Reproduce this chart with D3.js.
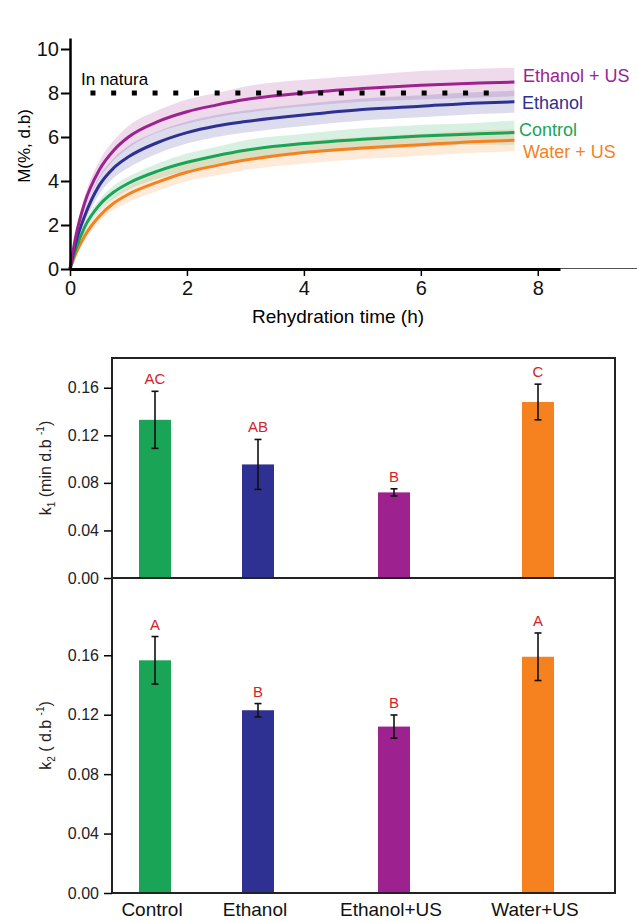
<!DOCTYPE html>
<html>
<head>
<meta charset="utf-8">
<style>
  body { margin: 0; background: #fff; }
  svg text { font-family: "Liberation Sans", Arial, sans-serif; }
</style>
</head>
<body>
<div id="chart"></div>
<script src="https://d3js.org/d3.v7.min.js"></script>
<script>

// ---- data: rehydration curves ----
var hours = [0, 0.1, 0.25, 0.5, 0.75, 1, 1.5, 2, 2.5, 3, 4, 5, 6, 7, 7.6];
var ethanolUS = [0, 1.5, 3.0, 4.5, 5.4, 6.0, 6.7, 7.15, 7.45, 7.7, 8.0, 8.2, 8.35, 8.45, 8.5];
var ethanol   = [0, 1.2, 2.4, 3.8, 4.6, 5.1, 5.75, 6.2, 6.5, 6.7, 7.0, 7.25, 7.4, 7.55, 7.6];
var control   = [0, 0.9, 1.9, 2.9, 3.5, 3.9, 4.45, 4.85, 5.15, 5.4, 5.7, 5.9, 6.05, 6.15, 6.2];
var waterUS   = [0, 0.7, 1.5, 2.4, 3.0, 3.4, 3.95, 4.4, 4.7, 4.95, 5.3, 5.5, 5.65, 5.8, 5.85];
// half width of the shaded bands
var ethanolUSErr = [0, 0.15, 0.3, 0.4, 0.45, 0.5, 0.5, 0.55, 0.55, 0.6, 0.6, 0.6, 0.65, 0.65, 0.65];
var ethanolErr   = [0, 0.15, 0.3, 0.4, 0.45, 0.5, 0.5, 0.5, 0.5, 0.5, 0.5, 0.5, 0.5, 0.5, 0.5];
var controlErr   = [0, 0.1, 0.2, 0.25, 0.3, 0.3, 0.35, 0.4, 0.4, 0.45, 0.45, 0.5, 0.5, 0.5, 0.55];
var waterUSErr   = [0, 0.1, 0.2, 0.25, 0.3, 0.35, 0.4, 0.4, 0.45, 0.45, 0.5, 0.5, 0.5, 0.5, 0.5];
var inNatura = 8;
var inNaturaSpan = [0.35, 7.35];
var curveTicksX = [0, 2, 4, 6, 8];
var curveTicksY = [0, 2, 4, 6, 8, 10];

// ---- data: kinetic constants ----
var categories = ["Control", "Ethanol", "Ethanol+US", "Water+US"];
var k1 = [0.133, 0.0955, 0.072, 0.148];
var k1Err = [0.024, 0.021, 0.003, 0.015];
var k1Letters = ["AC", "AB", "B", "C"];
var k2 = [0.1566, 0.123, 0.112, 0.159];
var k2Err = [0.016, 0.0045, 0.0078, 0.016];
var k2Letters = ["A", "B", "B", "A"];
var barTicks = [0, 0.04, 0.08, 0.12, 0.16];

var colors = ["#1aa455", "#2e3192", "#9e2190", "#f5821f"];

var svg = d3.select("#chart").append("svg")
    .attr("width", 637).attr("height", 922);

// ================= top: rehydration curves =================
var x = d3.scaleLinear().domain([0, 8.38]).range([70, 560]);
var y = d3.scaleLinear().domain([0, 10.5]).range([269, 38]);

var series = [
  {name: "Ethanol + US", v: ethanolUS, e: ethanolUSErr, c: colors[2], dy: -6, lx: 523},
  {name: "Ethanol",      v: ethanol,   e: ethanolErr,   c: colors[1], dy: 1,  lx: 522},
  {name: "Control",      v: control,   e: controlErr,   c: colors[0], dy: -3, lx: 519},
  {name: "Water + US",   v: waterUS,   e: waterUSErr,   c: colors[3], dy: 12, lx: 523}
];

var area = d3.area()
    .x(function(d, i){ return x(hours[i]); })
    .y0(function(d){ return y(d[0] - d[1]); })
    .y1(function(d){ return y(d[0] + d[1]); })
    .curve(d3.curveMonotoneX);
var line = d3.line()
    .x(function(d, i){ return x(hours[i]); })
    .y(function(d){ return y(d); })
    .curve(d3.curveMonotoneX);

series.forEach(function(s){
  svg.append("path")
    .attr("d", area(s.v.map(function(v, i){ return [v, s.e[i]]; })))
    .attr("fill", s.c).attr("fill-opacity", 0.17);
});
series.slice().reverse().forEach(function(s){
  svg.append("path")
    .attr("d", line(s.v))
    .attr("fill", "none").attr("stroke", s.c).attr("stroke-width", 3);
});

// in natura dotted line
svg.append("line")
  .attr("x1", x(inNaturaSpan[0])).attr("x2", x(inNaturaSpan[1]))
  .attr("y1", y(inNatura)).attr("y2", y(inNatura))
  .attr("stroke", "#000").attr("stroke-width", 5)
  .attr("stroke-dasharray", "5,15.7");
svg.append("text").attr("x", 81).attr("y", 85)
  .attr("font-size", 17).text("In natura");

// series labels
series.forEach(function(s){
  svg.append("text")
    .attr("x", s.lx).attr("y", y(s.v[s.v.length - 1]) + s.dy + 6)
    .attr("font-size", 18).attr("fill", s.c).text(s.name);
});

// axes
var gy = svg.append("g").attr("transform", "translate(70,0)")
  .call(d3.axisLeft(y).tickValues(curveTicksY).tickSize(9).tickPadding(2).tickSizeOuter(0));
gy.select(".domain").attr("stroke-width", 2.5);
gy.selectAll(".tick line").attr("stroke-width", 2);
gy.selectAll("text").attr("font-size", 20).attr("fill", "#111");

svg.append("line").attr("x1", 560).attr("x2", 637).attr("y1", 268.5).attr("y2", 268.5)
  .attr("stroke", "#555").attr("stroke-width", 1);
var gx = svg.append("g").attr("transform", "translate(0,269)")
  .call(d3.axisBottom(x).tickValues(curveTicksX).tickSize(7).tickPadding(5).tickSizeOuter(0));
gx.select(".domain").attr("stroke-width", 3);
gx.selectAll(".tick line").attr("stroke-width", 1.5);
gx.selectAll("text").attr("font-size", 20).attr("fill", "#111");

svg.append("text").attr("x", 338).attr("y", 323).attr("text-anchor", "middle")
  .attr("font-size", 19).text("Rehydration time  (h)");
svg.append("text").attr("transform", "translate(30,146) rotate(-90)")
  .attr("text-anchor", "middle").attr("font-size", 17).text("M(%, d.b)");

// ================= bottom: k1 and k2 bars =================
var xb = d3.scaleOrdinal().domain(categories).range([155, 258, 394, 538]);
var barW = 32;
var left = 112, right = 615;

function barPanel(values, errs, letters, top, bottom, yMax, label, sub, sup) {
  var yb = d3.scaleLinear().domain([0, yMax]).range([bottom, top]);
  var g = svg.append("g");

  g.selectAll("rect.bar").data(values).enter().append("rect")
    .attr("class", "bar")
    .attr("x", function(d, i){ return xb(categories[i]) - barW / 2; })
    .attr("y", function(d){ return yb(d); })
    .attr("width", barW)
    .attr("height", function(d){ return bottom - yb(d); })
    .attr("fill", function(d, i){ return colors[i]; });

  values.forEach(function(v, i){
    var cx = xb(categories[i]);
    var e = g.append("g").attr("stroke", "#111").attr("stroke-width", 1.6);
    e.append("line").attr("x1", cx).attr("x2", cx).attr("y1", yb(v - errs[i])).attr("y2", yb(v + errs[i]));
    [v - errs[i], v + errs[i]].forEach(function(w){
      e.append("line").attr("x1", cx - 3.5).attr("x2", cx + 3.5).attr("y1", yb(w)).attr("y2", yb(w));
    });
    g.append("text").attr("x", cx).attr("y", yb(v + errs[i]) - 7)
      .attr("text-anchor", "middle").attr("font-size", 15).attr("fill", "#d2232a")
      .text(letters[i]);
  });

  g.append("rect").attr("x", left).attr("y", top).attr("width", right - left).attr("height", bottom - top)
    .attr("fill", "none").attr("stroke", "#222").attr("stroke-width", 2);

  var ax = g.append("g").attr("transform", "translate(" + left + ",0)")
    .call(d3.axisLeft(yb).tickValues(barTicks).tickFormat(d3.format(".2f")).tickSize(8).tickPadding(5));
  ax.select(".domain").remove();
  ax.selectAll(".tick line").attr("stroke-width", 1.5);
  ax.selectAll("text").attr("font-size", 16).attr("fill", "#222");

  var t = g.append("text").attr("transform", "translate(51," + ((top + bottom) / 2) + ") rotate(-90)")
    .attr("text-anchor", "middle").attr("font-size", 16).attr("fill", "#222");
  t.append("tspan").text("k");
  t.append("tspan").attr("font-size", 10).attr("dy", 4).text(sub);
  t.append("tspan").attr("dy", -4).text(label);
  t.append("tspan").attr("font-size", 10).attr("dy", -7).text(sup);
  t.append("tspan").attr("dy", 7).text(")");
}

barPanel(k1, k1Err, k1Letters, 358, 578, 0.185, " (min d.b ", "1", "-1");
barPanel(k2, k2Err, k2Letters, 578, 893, 0.212, " ( d.b ", "2", "-1");

svg.selectAll("text.cat").data(categories).enter().append("text")
  .attr("class", "cat")
  .attr("x", function(d){ return xb(d) - 3; })
  .attr("y", 916)
  .attr("text-anchor", "middle").attr("font-size", 19).attr("fill", "#111")
  .text(function(d){ return d; });

</script>
</body>
</html>
